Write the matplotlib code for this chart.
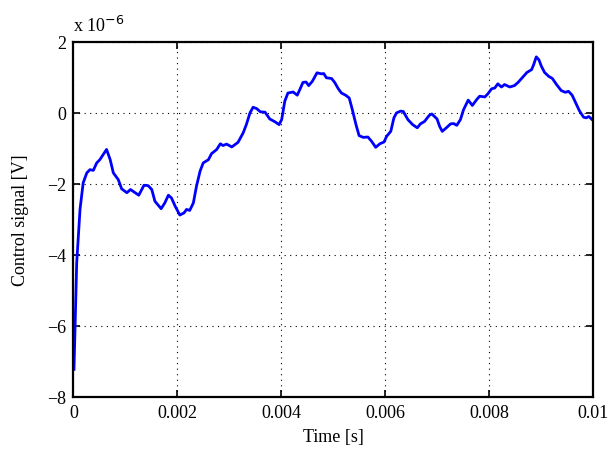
import matplotlib.pyplot as plt
import numpy as np

# Control signal trace (time in ms, signal in units of 1e-6 V)
t_ms = [0.013, 0.065, 0.129, 0.19, 0.26, 0.32, 0.385, 0.45, 0.51, 0.64, 0.71, 0.77,
        0.865, 0.93, 1.03, 1.10, 1.19, 1.26, 1.36, 1.44, 1.51, 1.57, 1.69, 1.76,
        1.83, 1.89, 1.96, 2.05, 2.13, 2.18, 2.24, 2.31, 2.37, 2.44, 2.50, 2.60,
        2.66, 2.76, 2.83, 2.88, 2.95, 3.05, 3.17, 3.27, 3.33, 3.40, 3.46, 3.53,
        3.60, 3.69, 3.78, 3.88, 3.96, 4.01, 4.07, 4.13, 4.23, 4.31, 4.36, 4.42,
        4.48, 4.53, 4.60, 4.69, 4.78, 4.82, 4.87, 4.97, 5.03, 5.10, 5.16, 5.24,
        5.31, 5.37, 5.44, 5.50, 5.58, 5.67, 5.74, 5.82, 5.90, 5.98, 6.03, 6.11,
        6.17, 6.22, 6.30, 6.35, 6.44, 6.53, 6.62, 6.68, 6.76, 6.85, 6.90, 7.00,
        7.05, 7.10, 7.18, 7.26, 7.32, 7.38, 7.45, 7.51, 7.60, 7.68, 7.76, 7.82,
        7.92, 7.98, 8.05, 8.11, 8.17, 8.24, 8.30, 8.40, 8.49, 8.56, 8.64, 8.73,
        8.82, 8.86, 8.91, 8.96, 9.01, 9.07, 9.15, 9.22, 9.30, 9.39, 9.47, 9.53,
        9.60, 9.67, 9.74, 9.82, 9.87, 9.92, 10.0]
u_micro = [-7.23, -4.23, -2.72, -1.97, -1.69, -1.60, -1.62, -1.41, -1.32, -1.03, -1.32, -1.69,
           -1.88, -2.14, -2.25, -2.16, -2.25, -2.32, -2.04, -2.05, -2.16, -2.49, -2.70, -2.54,
           -2.32, -2.40, -2.63, -2.88, -2.82, -2.72, -2.75, -2.54, -2.07, -1.64, -1.41, -1.32,
           -1.15, -1.03, -0.87, -0.92, -0.88, -0.96, -0.83, -0.56, -0.33, 0.0, 0.16, 0.12,
           0.03, 0.02, -0.17, -0.25, -0.33, -0.19, 0.33, 0.56, 0.59, 0.50, 0.66, 0.86,
           0.87, 0.77, 0.89, 1.13, 1.10, 1.11, 0.99, 0.97, 0.86, 0.68, 0.56, 0.50,
           0.42, 0.09, -0.33, -0.64, -0.69, -0.68, -0.80, -0.97, -0.87, -0.82, -0.66, -0.52,
           -0.14, 0.0, 0.05, 0.04, -0.19, -0.33, -0.42, -0.31, -0.24, -0.07, -0.03, -0.17,
           -0.38, -0.52, -0.42, -0.31, -0.30, -0.35, -0.19, 0.09, 0.36, 0.21, 0.37, 0.47,
           0.45, 0.54, 0.68, 0.70, 0.82, 0.73, 0.80, 0.73, 0.77, 0.86, 0.99, 1.14,
           1.22, 1.36, 1.58, 1.50, 1.31, 1.14, 1.03, 0.97, 0.80, 0.63, 0.58, 0.61,
           0.50, 0.28, 0.06, -0.12, -0.14, -0.10, -0.21]

x_ticks = [0, 0.002, 0.004, 0.006, 0.008, 0.01]
x_labels = ['0', '0.002', '0.004', '0.006', '0.008', '0.01']
y_ticks = [-8, -6, -4, -2, 0, 2]

plt.rcParams['font.family'] = ['Liberation Serif', 'DejaVu Serif']
plt.rcParams['font.size'] = 13

fig = plt.figure(figsize=(6.12, 4.56), dpi=100)
ax = fig.add_axes([0.1198, 0.1279, 0.849, 0.7779])

t = np.array(t_ms) * 1e-3
u = np.array(u_micro) * 1e-6
ax.plot(t, u, color='#0000ff', linewidth=2.0)

ax.set_xlim(0, 0.01)
ax.set_ylim(-8e-6, 2e-6)
ax.set_xticks(x_ticks)
ax.set_xticklabels(x_labels)
ax.set_yticks([v * 1e-6 for v in y_ticks])
ax.set_yticklabels(['\u2212%d' % -v if v < 0 else '%d' % v for v in y_ticks])

ax.grid(True, color='black', linestyle=(0, (1, 4)), linewidth=0.8)
ax.tick_params(direction='in', length=5, width=1.2, top=True, right=True, pad=5)
for sp in ax.spines.values():
    sp.set_linewidth(1.6)

ax.set_xlabel('Time [s]', labelpad=5)
ax.set_ylabel('Control signal [V]', labelpad=13)
ax.text(0.0, 1.02, 'x 10$^{\u22126}$', transform=ax.transAxes, ha='left', va='bottom',
        fontsize=13)

fig.savefig('out.png', dpi=100)
